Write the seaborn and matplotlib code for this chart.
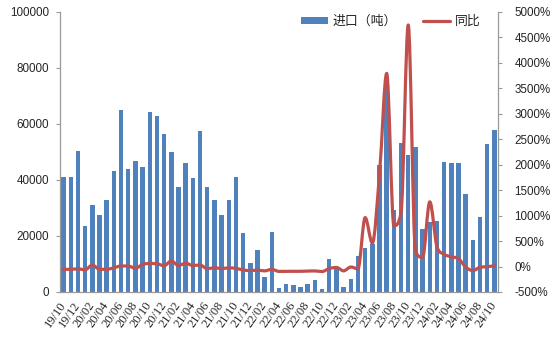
import matplotlib
matplotlib.use("Agg")
import matplotlib.pyplot as plt
from matplotlib.path import Path
from matplotlib.patches import PathPatch, Patch
from matplotlib.lines import Line2D
import numpy as np
import pandas as pd
import seaborn as sns

# Monthly imports (tonnes) and year-on-year change (%), 2019/10 - 2024/10
months = [
    "19/10", "19/11", "19/12", "20/01", "20/02", "20/03", "20/04", "20/05", "20/06", "20/07",
    "20/08", "20/09", "20/10", "20/11", "20/12", "21/01", "21/02", "21/03", "21/04", "21/05",
    "21/06", "21/07", "21/08", "21/09", "21/10", "21/11", "21/12", "22/01", "22/02", "22/03",
    "22/04", "22/05", "22/06", "22/07", "22/08", "22/09", "22/10", "22/11", "22/12", "23/01",
    "23/02", "23/03", "23/04", "23/05", "23/06", "23/07", "23/08", "23/09", "23/10", "23/11",
    "23/12", "24/01", "24/02", "24/03", "24/04", "24/05", "24/06", "24/07", "24/08", "24/09",
    "24/10",
]
imports_t = [
    41000, 41000, 50200, 23700, 30900, 27600, 32800, 43200, 64800, 44000,
    46700, 44600, 64300, 62800, 56400, 49900, 37400, 46000, 40700, 57400,
    37400, 32800, 27400, 32700, 41000, 21000, 10300, 14900, 5500, 21300,
    1400, 3000, 2400, 1900, 3000, 4400, 1000, 11700, 8200, 1900,
    4600, 12700, 15600, 17000, 45400, 74000, 29300, 53000, 48700, 51900,
    22500, 25000, 25200, 46300, 45900, 45900, 35000, 18600, 26700, 52800,
    57800,
]
yoy_pct = [
    -55, -55, -45, -65, 30, -55, -55, -25, 10, 10,
    -35, 40, 60, 55, 15, 110, 20, 65, 20, 30,
    -42, -25, -40, -27, -36, -67, -80, -72, -85, -55,
    -96, -95, -94, -94, -89, -87, -98, -40, -18, -85,
    -10, -45, 960, 460, 1820, 3790, 800, 1060, 4740, 300,
    180, 1270, 390, 240, 190, 155, -10, -80, -15, -4,
    15,
]
left_ticks = [0, 20000, 40000, 60000, 80000, 100000]
right_ticks = list(range(-500, 5001, 500))

BAR_BLUE = "#4F81BD"
LINE_RED = "#C0504D"
AXIS_GREY = "#9A9A9A"

sns.set_style("white")
plt.rcParams["font.family"] = ["Liberation Sans", "DejaVu Sans"]

df = pd.DataFrame({"month": months, "imports": imports_t, "yoy": yoy_pct})

fig = plt.figure(figsize=(5.55, 3.41), dpi=100)
fig.subplots_adjust(left=60 / 555, right=498 / 555, top=1 - 11.7 / 341, bottom=1 - 292 / 341)
ax = fig.add_subplot(111)

sns.barplot(data=df, x="month", y="imports", order=months, color=BAR_BLUE,
            saturation=1, width=0.62, ax=ax, linewidth=0)
ax.set_xlim(-0.5, len(months) - 0.5)
ax.set_ylim(0, 100000)
ax.set_yticks(left_ticks)
ax.set_yticklabels([str(v) for v in left_ticks], fontsize=8.4)
ax.set_xlabel("")
ax.set_ylabel("")

# Category labels on every second month, tick marks on the category boundaries
pos = np.arange(0, len(months), 2)
ax.set_xticks(pos)
ax.set_xticklabels([months[i] for i in pos], rotation=55, ha="right", va="center",
                   rotation_mode="anchor", fontsize=9, family=["Liberation Serif"])
ax.set_xticks(np.arange(-0.5, len(months) - 1, 2), minor=True)
ax.tick_params(axis="x", which="major", length=0, pad=8)
ax.tick_params(axis="x", which="minor", length=4, color=AXIS_GREY, width=0.8, direction="out")
ax.tick_params(axis="y", length=3, color=AXIS_GREY, width=0.8, direction="out", pad=5)

for side in ["top", "right"]:
    ax.spines[side].set_visible(False)
for side in ["left", "bottom"]:
    ax.spines[side].set_color(AXIS_GREY)
    ax.spines[side].set_linewidth(0.9)

# Secondary axis with the smoothed year-on-year curve
ax2 = ax.twinx()
ax2.set_ylim(-500, 5000)
ax2.set_yticks(right_ticks)
ax2.set_yticklabels([f"{v}%" for v in right_ticks], fontsize=8.4)
ax2.tick_params(axis="y", length=3, color=AXIS_GREY, width=0.8, direction="out", pad=9)
for side in ["top", "left", "bottom"]:
    ax2.spines[side].set_visible(False)
ax2.spines["right"].set_color(AXIS_GREY)
ax2.spines["right"].set_linewidth(0.9)
ax2.grid(False)
ax.grid(False)

# Smoothed curve: cubic Hermite segments with central-difference slopes,
# flattened at local extremes and limited so segments never overshoot
xs = np.arange(len(yoy_pct), dtype=float)
ys = np.asarray(yoy_pct, dtype=float)
n = len(ys)
delta = np.diff(ys)
slope = np.zeros(n)
slope[0] = delta[0]
slope[-1] = delta[-1]
for i in range(1, n - 1):
    dl, dr = delta[i - 1], delta[i]
    if dl * dr <= 0:
        slope[i] = 0.0
    else:
        m = 0.5 * (dl + dr)
        lim = 3.0 * min(abs(dl), abs(dr))
        slope[i] = np.sign(m) * min(abs(m), lim)
verts = [(xs[0], ys[0])]
codes = [Path.MOVETO]
for i in range(n - 1):
    c1 = (xs[i] + 1 / 3, ys[i] + slope[i] / 3)
    c2 = (xs[i + 1] - 1 / 3, ys[i + 1] - slope[i + 1] / 3)
    verts += [c1, c2, (xs[i + 1], ys[i + 1])]
    codes += [Path.CURVE4] * 3
curve = PathPatch(Path(verts, codes), facecolor="none", edgecolor=LINE_RED,
                  linewidth=2.3, capstyle="round", joinstyle="round")
ax2.add_patch(curve)

handles = [Patch(facecolor=BAR_BLUE, edgecolor="none"),
           Line2D([0], [0], color=LINE_RED, linewidth=2.3)]
leg = ax2.legend(handles, ["进口（吨）", "同比"], loc="center", bbox_to_anchor=(0.755, 0.965),
                 ncol=2, frameon=False, handlelength=2.1, handleheight=0.45,
                 handletextpad=0.35, columnspacing=2.0,
                 prop={"family": ["Noto Sans CJK SC", "DejaVu Sans"], "size": 9.3})

fig.savefig("out.png", dpi=100)
